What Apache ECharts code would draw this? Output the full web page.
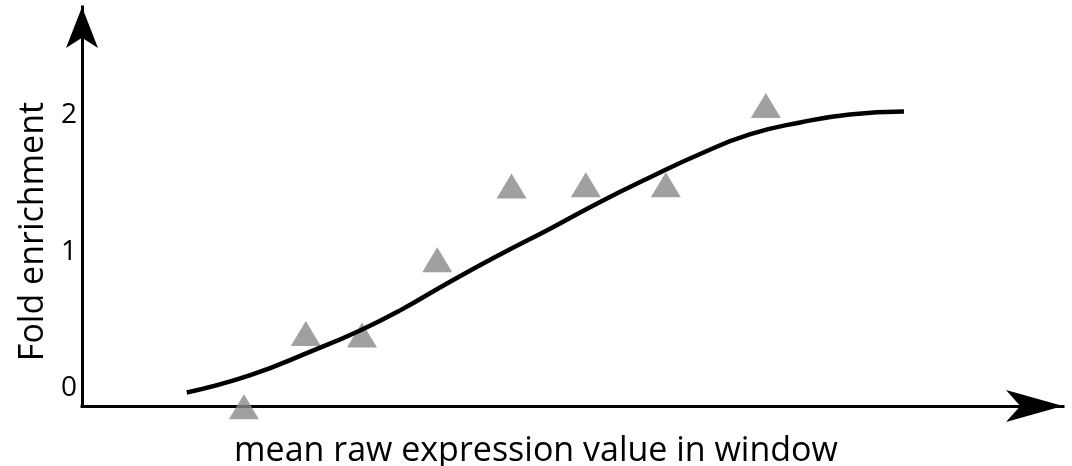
<!DOCTYPE html>
<html>
<head>
<meta charset="utf-8">
<script src="https://cdn.jsdelivr.net/npm/echarts@6/dist/echarts.min.js"></script>
<style>
  html, body { margin: 0; padding: 0; background: #ffffff; }
  #chart { width: 1072px; height: 466px; }
</style>
</head>
<body>
<div id="chart"></div>
<script>
// Observed data points (x: arbitrary expression units, y: fold enrichment)
var pointX = [1.70, 2.35, 2.94, 3.73, 4.51, 5.29, 6.13, 7.18];
var pointY = [-0.135, 0.40, 0.39, 0.94, 1.48, 1.49, 1.49, 2.07];

// Fitted curve
var curveX = [1.10, 1.76, 2.43, 2.92, 3.34, 3.86, 4.39, 4.91, 5.44, 5.96, 6.49, 7.01, 7.54, 8.06, 8.63];
var curveY = [-0.031, 0.094, 0.277, 0.423, 0.570, 0.778, 0.979, 1.166, 1.364, 1.543, 1.715, 1.858, 1.946, 2.004, 2.026];

// Tick labels
var yTicks = [0, 1, 2];

var xName = 'mean raw expression value in window';
var yName = 'Fold enrichment';

function zip(a, b) {
  var out = [];
  for (var i = 0; i < a.length; i++) out.push([a[i], b[i]]);
  return out;
}

var chart = echarts.init(document.getElementById('chart'), null, { renderer: 'canvas' });
var font = '"Open Sans", "DejaVu Sans", sans-serif';

chart.setOption({
  animation: false,
  backgroundColor: '#ffffff',
  grid: {
    left: 82,
    right: 9,
    top: 7,
    bottom: 60,
    containLabel: false,
    outerBoundsMode: 'none'
  },
  xAxis: {
    type: 'value',
    min: 0,
    max: 10.3,
    name: xName,
    nameLocation: 'middle',
    nameGap: 28,
    nameTextStyle: {
      fontFamily: font,
      fontSize: 34,
      color: '#000000',
      padding: [0, 73, 0, 0]
    },
    axisLine: {
      show: true,
      onZero: false,
      symbol: ['none', 'arrow'],
      symbolSize: [24, 57],
      lineStyle: { color: '#000000', width: 3, cap: 'square' }
    },
    axisTick: { show: false },
    axisLabel: { show: false },
    splitLine: { show: false }
  },
  yAxis: {
    type: 'value',
    min: -0.13,
    max: 2.791,
    name: yName,
    nameLocation: 'middle',
    nameGap: 32,
    nameRotate: 90,
    nameTextStyle: {
      fontFamily: font,
      fontSize: 34,
      color: '#000000',
      padding: [0, 50, 0, 0]
    },
    axisLine: {
      show: true,
      onZero: false,
      symbol: ['none', 'arrow'],
      symbolSize: [24, 41],
      lineStyle: { color: '#000000', width: 3, cap: 'square' }
    },
    axisTick: { show: false },
    axisLabel: {
      customValues: yTicks,
      fontFamily: font,
      fontSize: 28,
      color: '#000000',
      margin: 5
    },
    splitLine: { show: false }
  },
  series: [
    {
      type: 'line',
      data: zip(curveX, curveY),
      smooth: true,
      showSymbol: false,
      symbol: 'none',
      clip: false,
      lineStyle: { color: '#000000', width: 4.5 },
      z: 3
    },
    {
      type: 'scatter',
      data: zip(pointX, pointY),
      symbol: 'triangle',
      symbolSize: [30, 25],
      clip: false,
      itemStyle: { color: '#888888' },
      z: 2
    }
  ]
});
</script>
</body>
</html>
